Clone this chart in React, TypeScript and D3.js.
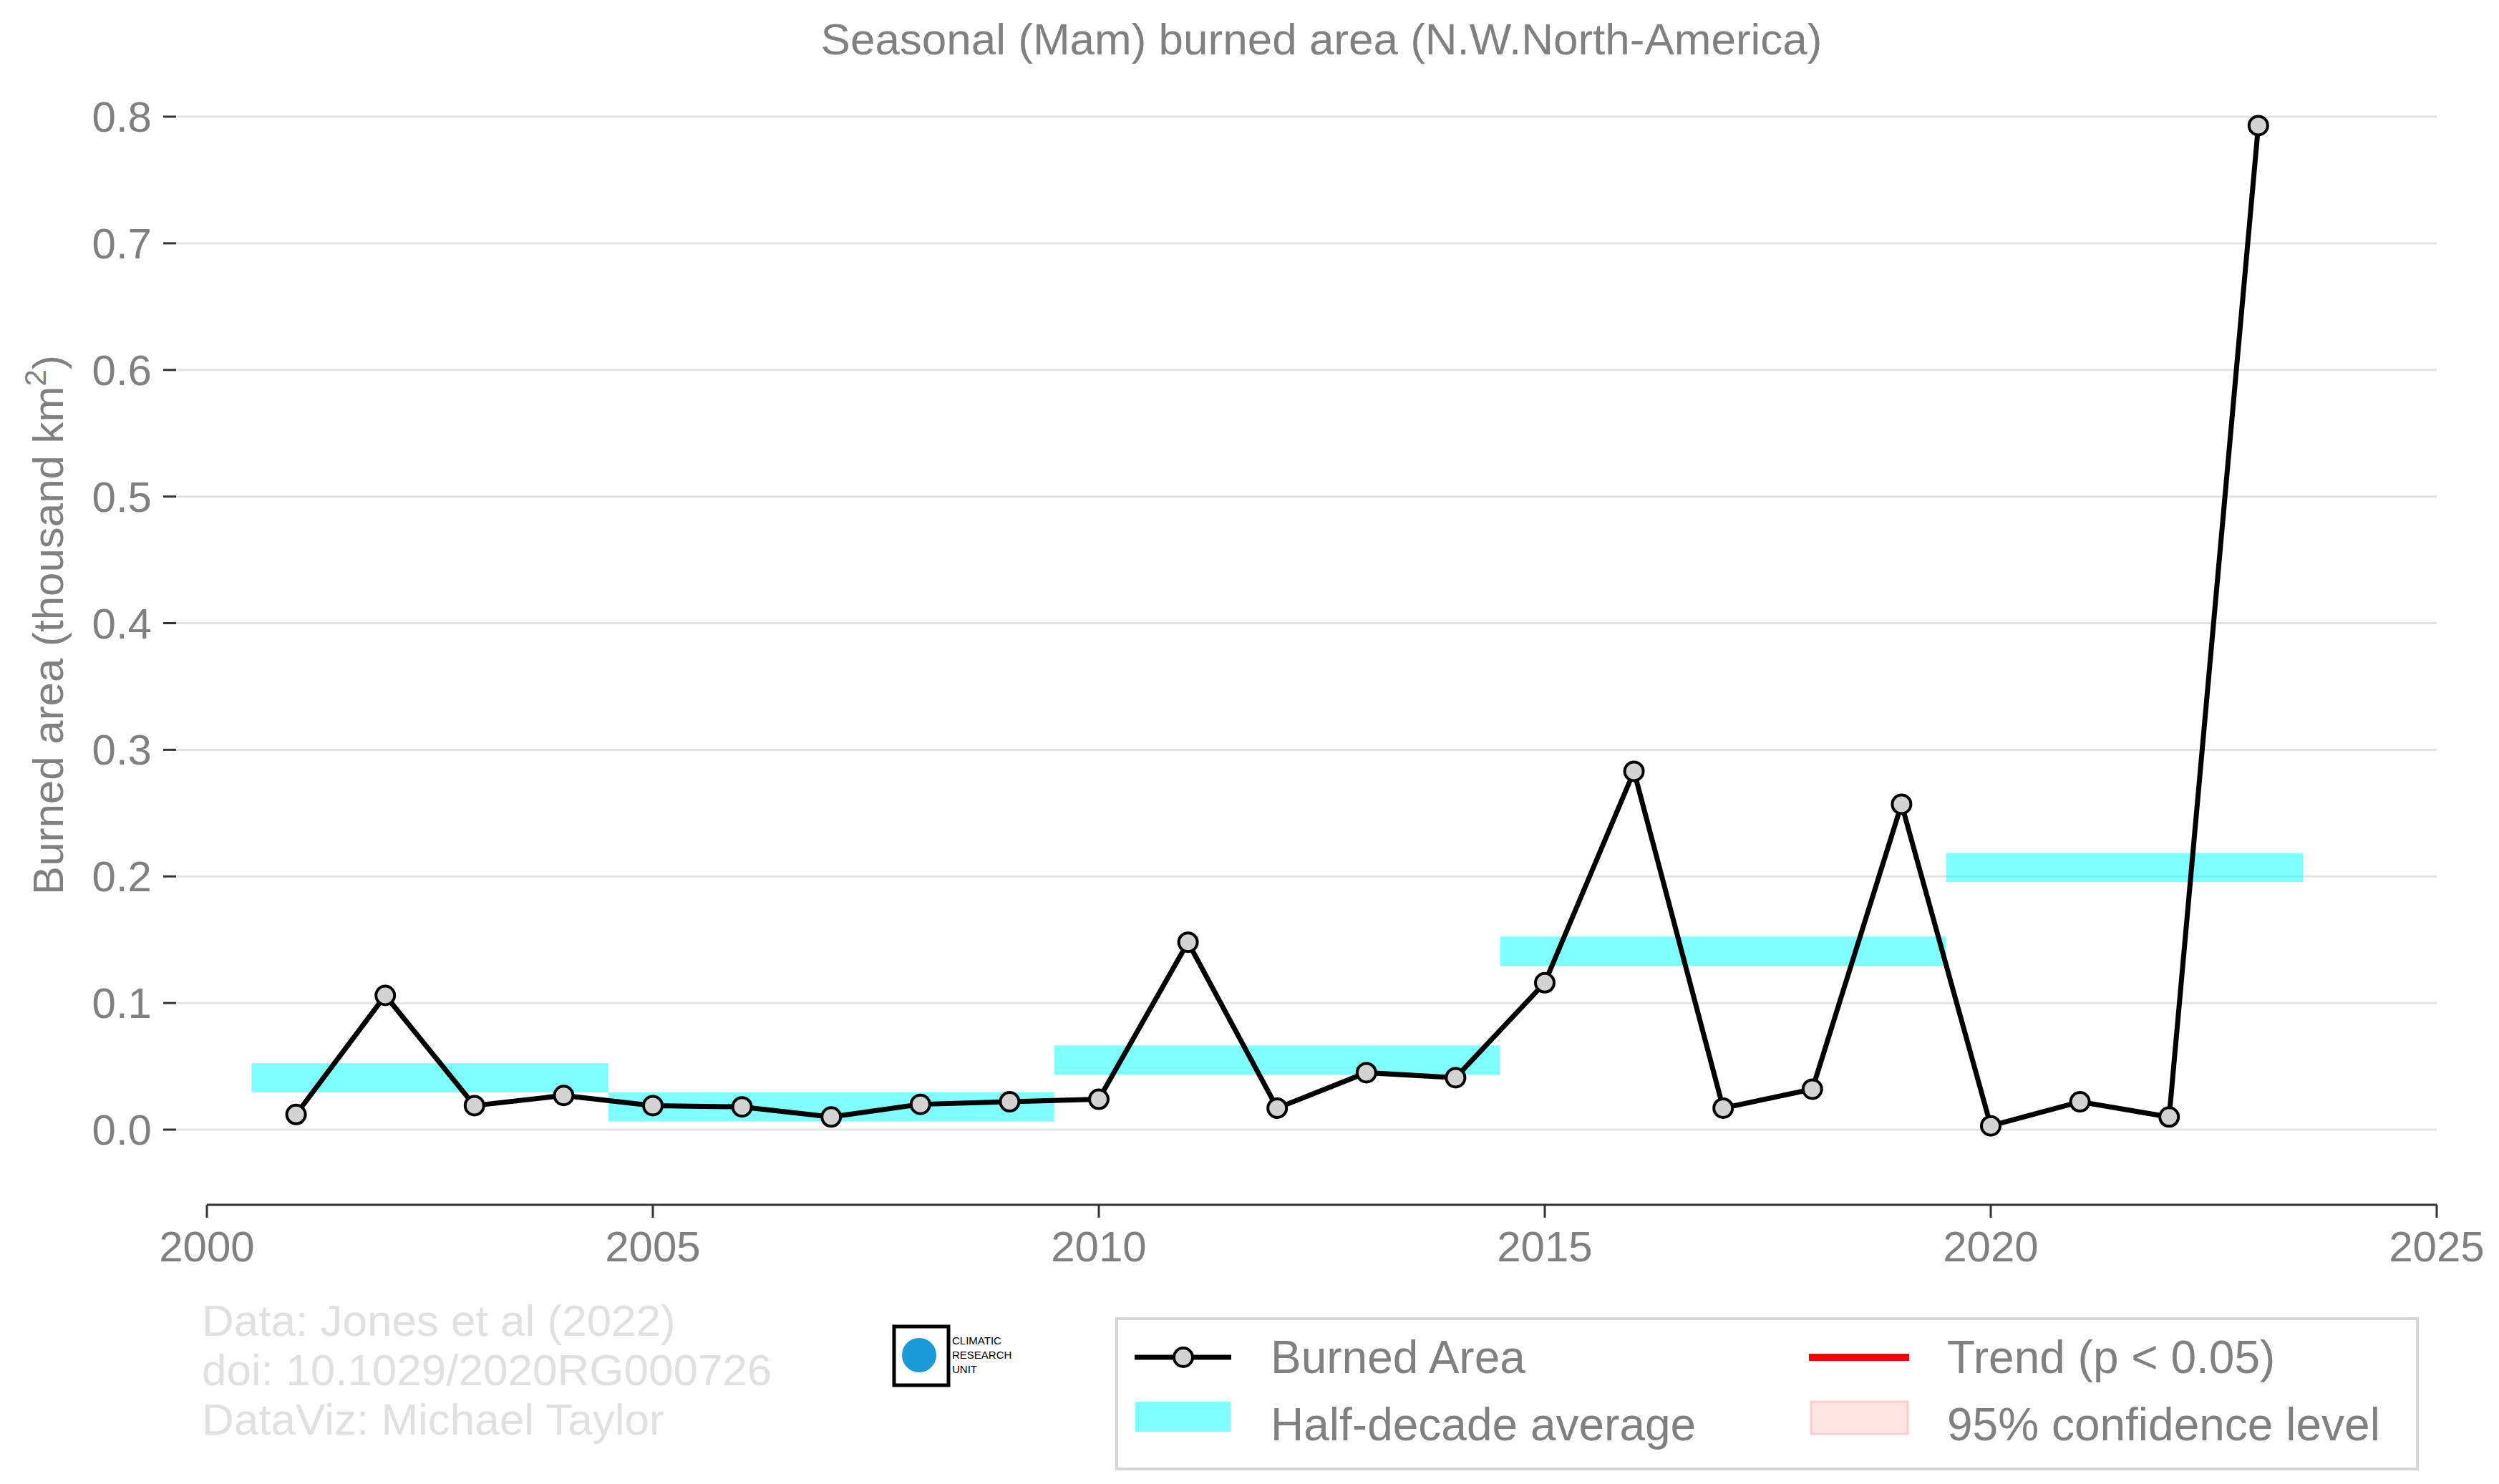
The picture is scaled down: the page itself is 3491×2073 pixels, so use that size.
import React from "react";
import * as d3 from "d3";

const years = [2001,2002,2003,2004,2005,2006,2007,2008,2009,2010,2011,2012,2013,2014,2015,2016,2017,2018,2019,2020,2021,2022,2023];
const burned = [0.012,0.106,0.019,0.027,0.019,0.018,0.010,0.020,0.022,0.024,0.148,0.017,0.045,0.041,0.116,0.283,0.017,0.032,0.257,0.003,0.022,0.010,0.793];
const halfStart = [2000.5,2004.5,2009.5,2014.5,2019.5];
const halfEnd = [2004.5,2009.5,2014.5,2019.5,2023.5];
const halfAvg = [0.041,0.018,0.055,0.141,0.207];
const yTicks = [0,0.1,0.2,0.3,0.4,0.5,0.6,0.7,0.8];
const xTicks = [2000,2005,2010,2015,2020,2025];
const footer = ["Data: Jones et al (2022)","doi: 10.1029/2020RG000726","DataViz: Michael Taylor"];

export default function App() {
  const W = 3491, H = 2073;
  const x = d3.scaleLinear().domain([2000, 2025]).range([289, 3404]);
  const y = d3.scaleLinear().domain([0, 0.8]).range([1578, 163]);
  const line = d3.line<number>().x((_, i) => x(years[i])).y(d => y(d));
  const font = "Liberation Sans, Arial, sans-serif";
  const grey = "#808080";
  const band = 0.0115;
  return (
    <svg width={W} height={H} style={{ position: "absolute", left: 0, top: 0, fontFamily: font }}>
      <rect width={W} height={H} fill="#fff" />
      <text x={1846} y={76} textAnchor="middle" fontSize={62} fill={grey}>Seasonal (Mam) burned area (N.W.North-America)</text>
      {yTicks.map(t => (
        <g key={t}>
          <line x1={246} x2={3404} y1={y(t)} y2={y(t)} stroke="#e3e3e3" strokeWidth={3} />
          <line x1={228} x2={246} y1={y(t)} y2={y(t)} stroke="#333" strokeWidth={3} />
          <text x={212} y={y(t) + 21} textAnchor="end" fontSize={60} fill={grey}>{t.toFixed(1)}</text>
        </g>
      ))}
      <line x1={289} x2={3404} y1={1683} y2={1683} stroke="#333" strokeWidth={3} />
      {xTicks.map(t => (
        <g key={t}>
          <line x1={x(t)} x2={x(t)} y1={1683} y2={1701} stroke="#333" strokeWidth={3} />
          <text x={x(t)} y={1762} textAnchor="middle" fontSize={60} fill={grey}>{t}</text>
        </g>
      ))}
      <text transform={`translate(88,873) rotate(-90)`} textAnchor="middle" fontSize={60} fill={grey}>
        Burned area (thousand km<tspan dy={-24} fontSize={42}>2</tspan><tspan dy={24}>)</tspan>
      </text>
      {halfAvg.map((v, i) => (
        <rect key={i} x={x(halfStart[i])} width={x(halfEnd[i]) - x(halfStart[i])} y={y(v + band)} height={y(v - band) - y(v + band)} fill="#00ffff" opacity={0.5} />
      ))}
      <path d={line(burned) || ""} fill="none" stroke="#000" strokeWidth={7} />
      {burned.map((v, i) => (
        <circle key={i} cx={x(years[i])} cy={y(v)} r={13} fill="#d3d3d3" stroke="#000" strokeWidth={4} />
      ))}
      {footer.map((t, i) => (
        <text key={i} x={282} y={1866 + i * 69} fontSize={62} fill="#e0e0e0">{t}</text>
      ))}
      <g>
        <rect x={1249} y={1853} width={76} height={82} fill="none" stroke="#000" strokeWidth={5} />
        <circle cx={1284} cy={1893} r={24} fill="#1a9ad6" />
        <text x={1330} y={1878} fontSize={15} fill="#000">CLIMATIC</text>
        <text x={1330} y={1898} fontSize={15} fill="#000">RESEARCH</text>
        <text x={1330} y={1918} fontSize={15} fill="#000">UNIT</text>
      </g>
      <rect x={1560} y={1842} width={1817} height={210} fill="#fff" stroke="#d6d6d6" strokeWidth={4} />
      <line x1={1585} x2={1720} y1={1896} y2={1896} stroke="#000" strokeWidth={7} />
      <circle cx={1653} cy={1896} r={13} fill="#d3d3d3" stroke="#000" strokeWidth={4} />
      <text x={1775} y={1918} fontSize={64} fill={grey}>Burned Area</text>
      <rect x={1586} y={1958} width={133} height={42} fill="#00ffff" opacity={0.5} />
      <text x={1775} y={2012} fontSize={64} fill={grey}>Half-decade average</text>
      <line x1={2527} x2={2667} y1={1896} y2={1896} stroke="#ff0000" strokeWidth={10} />
      <text x={2720} y={1918} fontSize={64} fill={grey}>Trend (p &lt; 0.05)</text>
      <rect x={2530} y={1958} width={135} height={45} fill="#ffe4e4" stroke="#ffcccc" strokeWidth={3} />
      <text x={2720} y={2012} fontSize={64} fill={grey}>95% confidence level</text>
    </svg>
  );
}
